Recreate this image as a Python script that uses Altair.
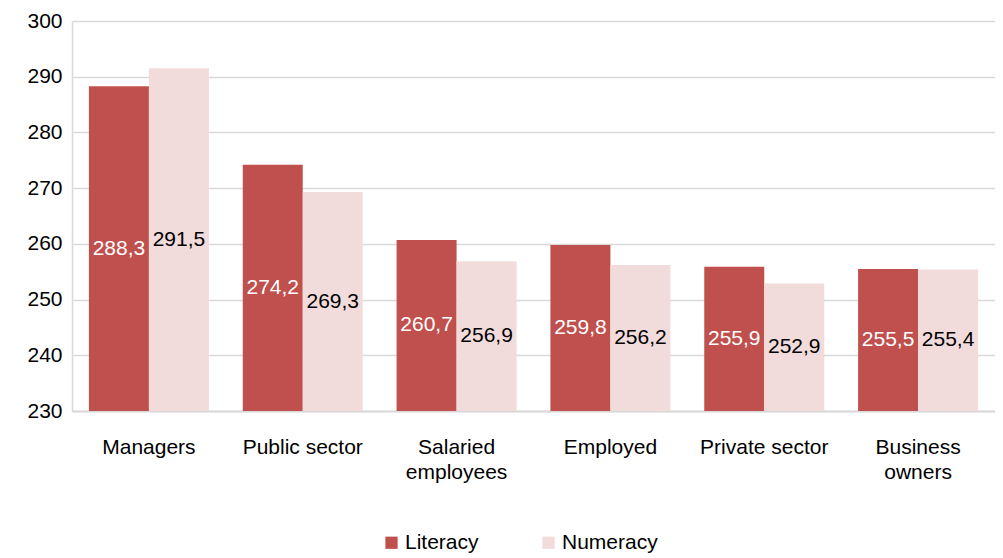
import altair as alt
import pandas as pd

categories = ["Managers", "Public sector", "Salaried|employees", "Employed", "Private sector", "Business|owners"]
literacy = [288.3, 274.2, 260.7, 259.8, 255.9, 255.5]
numeracy = [291.5, 269.3, 256.9, 256.2, 252.9, 255.4]
series = ["Literacy", "Numeracy"]
colors = ["#C0504D", "#F2DCDB"]
label_colors = ["#FFFFFF", "#000000"]

rows = []
for c, l, n in zip(categories, literacy, numeracy):
    rows.append({"cat": c, "series": "Literacy", "value": l})
    rows.append({"cat": c, "series": "Numeracy", "value": n})
df = pd.DataFrame(rows)

FONT = "Liberation Sans"
FS = 21

x = alt.X("cat:N", sort=categories, title=None,
          scale=alt.Scale(paddingInner=0.22, paddingOuter=0.11),
          axis=alt.Axis(labelAngle=0, labelExpr="split(datum.label, '|')",
                        labelFontSize=FS, labelFont=FONT, labelColor="#000000",
                        labelPadding=25, labelBaseline="top", labelLineHeight=25,
                        ticks=False, domainColor="#D9D9D9", domainWidth=2,
                        labelLimit=300))
xoff = alt.XOffset("series:N", sort=series, scale=alt.Scale(paddingInner=0))
y = alt.Y("value:Q", title=None,
          scale=alt.Scale(domain=[230, 300], zero=False, nice=False),
          axis=alt.Axis(values=[230, 240, 250, 260, 270, 280, 290, 300],
                        labelFontSize=FS, labelFont=FONT, labelColor="#000000",
                        labelPadding=10, ticks=False, gridColor="#D9D9D9",
                        gridWidth=1.5, domainColor="#D9D9D9", domainWidth=1.5))

bars = alt.Chart(df).mark_bar().encode(
    x=x, xOffset=xoff, y=y, y2=alt.datum(230),
    color=alt.Color("series:N", sort=series,
                    scale=alt.Scale(domain=series, range=colors),
                    legend=alt.Legend(title=None, orient="none", direction="horizontal",
                                      legendX=309, legendY=511, symbolType="square",
                                      symbolSize=150, symbolStrokeWidth=0,
                                      labelFontSize=FS, labelFont=FONT,
                                      labelColor="#000000", labelOffset=3,
                                      columnPadding=59, padding=0)),
)

texts = alt.Chart(df).transform_calculate(
    mid="(datum.value + 230) / 2",
    lab="replace(format(datum.value, '.1f'), '.', ',')",
).mark_text(fontSize=FS, font=FONT, baseline="middle", align="center").encode(
    x=x, xOffset=xoff,
    y=alt.Y("mid:Q"),
    text="lab:N",
    color=alt.Color("series:N", sort=series,
                    scale=alt.Scale(domain=series, range=label_colors), legend=None),
)

chart = alt.layer(bars, texts).resolve_scale(color="independent").properties(
    width=923, height=390,
    autosize=alt.AutoSizeParams(type="none"),
    padding={"left": 64, "top": 13, "right": 0, "bottom": 147},
).configure_view(stroke=None)

chart.save("out.html", embed_options={"renderer": "svg", "actions": False})
